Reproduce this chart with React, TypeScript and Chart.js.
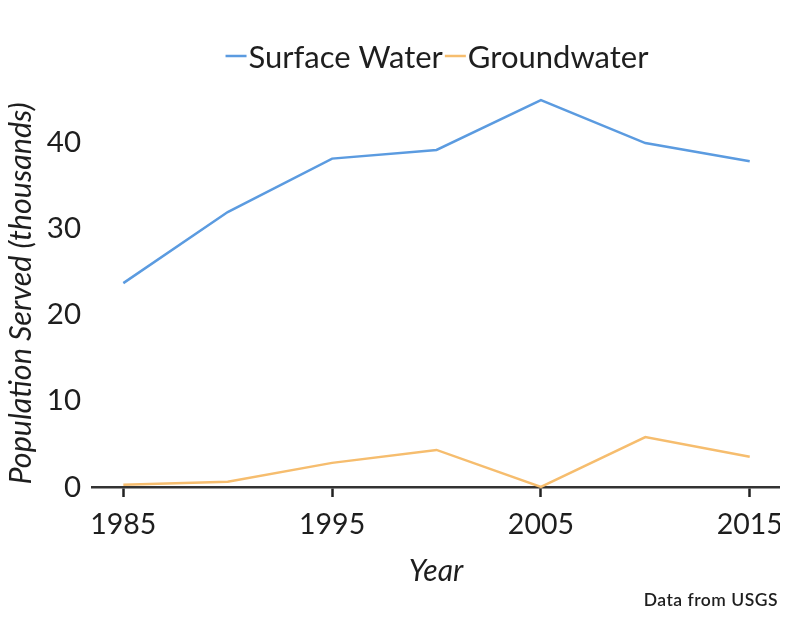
import React, { useEffect, useRef } from "react";
import { Chart, registerables } from "chart.js";

Chart.register(...registerables);

const years = [1985, 1990, 1995, 2000, 2005, 2010, 2015];
const surfaceWater = [23.65, 31.9, 38.1, 39.1, 44.9, 39.9, 37.8];
const groundwater = [0.25, 0.6, 2.8, 4.3, 0.0, 5.8, 3.5];
const xTickYears = [1985, 1995, 2005, 2015];
const yTickValues = [0, 10, 20, 30, 40];
const seriesNames = ["Surface Water", "Groundwater"];
const seriesColors = ["#5b9be0", "#f6bd6e"];
const sourceNote = "Data from USGS";

const FONT = "Lato, 'Noto Sans', sans-serif";
const TEXT = "#1e1e1e";

const legendPlugin = {
  id: "dashLegend",
  afterDraw(chart: any) {
    const ctx = chart.ctx;
    const area = chart.chartArea;
    const datasets = chart.data.datasets;
    ctx.save();
    ctx.font = `31px ${FONT}`;
    const dash = 21;
    const gapAfterDash = 2;
    const gapAfterText = 2;
    const widths = datasets.map((ds: any) => ctx.measureText(ds.label).width);
    let total = 0;
    widths.forEach((w: number, i: number) => {
      total += dash + gapAfterDash + w + (i < widths.length - 1 ? gapAfterText : 0);
    });
    let x = (area.left + area.right) / 2 - total / 2 + 1;
    const baseline = 68;
    const dashY = 56;
    datasets.forEach((ds: any, i: number) => {
      ctx.strokeStyle = ds.borderColor;
      ctx.lineWidth = 2.5;
      ctx.beginPath();
      ctx.moveTo(x, dashY);
      ctx.lineTo(x + dash, dashY);
      ctx.stroke();
      x += dash + gapAfterDash;
      ctx.fillStyle = TEXT;
      ctx.textAlign = "left";
      ctx.textBaseline = "alphabetic";
      ctx.fillText(ds.label, x, baseline);
      x += widths[i] + gapAfterText;
    });
    // source note
    ctx.font = `600 17.5px ${FONT}`;
    try {
      (ctx as any).letterSpacing = "0.5px";
    } catch (e) {}
    ctx.fillStyle = TEXT;
    ctx.textAlign = "right";
    ctx.textBaseline = "alphabetic";
    ctx.fillText(sourceNote, 778, 606);
    ctx.restore();
  },
};

export default function App() {
  const ref = useRef<HTMLCanvasElement | null>(null);
  useEffect(() => {
    if (!ref.current) return;
    const chart = new Chart(ref.current, {
      type: "line",
      data: {
        datasets: [
          {
            label: seriesNames[0],
            data: years.map((y, i) => ({ x: y, y: surfaceWater[i] })),
            borderColor: seriesColors[0],
            backgroundColor: seriesColors[0],
            borderWidth: 2.5,
            pointRadius: 0,
            tension: 0,
            clip: 4,
          },
          {
            label: seriesNames[1],
            data: years.map((y, i) => ({ x: y, y: groundwater[i] })),
            borderColor: seriesColors[1],
            backgroundColor: seriesColors[1],
            borderWidth: 2.5,
            pointRadius: 0,
            tension: 0,
            clip: 4,
          },
        ],
      },
      options: {
        animation: false,
        responsive: false,
        layout: { padding: { top: 100, bottom: 29, right: 8, left: 0 } },
        plugins: {
          legend: { display: false },
          tooltip: { enabled: false },
        },
        scales: {
          x: {
            type: "linear",
            min: 1983.5,
            max: 2016.45,
            afterBuildTicks: (axis: any) => {
              axis.ticks = xTickYears.map((v) => ({ value: v }));
            },
            afterFit: (axis: any) => {
              axis.height = 102;
              axis.paddingLeft = 0;
              axis.paddingRight = 0;
            },
            ticks: {
              color: TEXT,
              font: { family: FONT, size: 28.5 },
              padding: 11,
              maxRotation: 0,
              callback: (v: any) => String(v),
            },
            grid: {
              display: true,
              drawOnChartArea: false,
              tickLength: 10,
              tickWidth: 2.5,
              tickColor: "#222",
            },
            border: { display: true, color: "#333", width: 2.5 },
            title: {
              display: true,
              text: "Year",
              color: TEXT,
              font: { family: FONT, size: 30, style: "italic" },
              padding: { top: 0, bottom: 0 },
            },
          },
          y: {
            type: "linear",
            min: 0,
            max: 44.9,
            afterBuildTicks: (axis: any) => {
              axis.ticks = yTickValues.map((v) => ({ value: v }));
            },
            afterFit: (axis: any) => {
              axis.width = 92;
            },
            ticks: {
              color: TEXT,
              font: { family: FONT, size: 29.5 },
              padding: 11,
            },
            grid: { display: false, drawTicks: false },
            border: { display: false },
            title: {
              display: true,
              text: "Population Served (thousands)",
              color: TEXT,
              font: { family: FONT, size: 30.5, style: "italic" },
              padding: { top: 3, bottom: 0 },
            },
          },
        },
      },
      plugins: [legendPlugin],
    });
    return () => chart.destroy();
  }, []);
  return (
    <div style={{ margin: -8, width: 788, height: 618 }}>
      <canvas ref={ref} width={788} height={618} style={{ display: "block" }} />
    </div>
  );
}
